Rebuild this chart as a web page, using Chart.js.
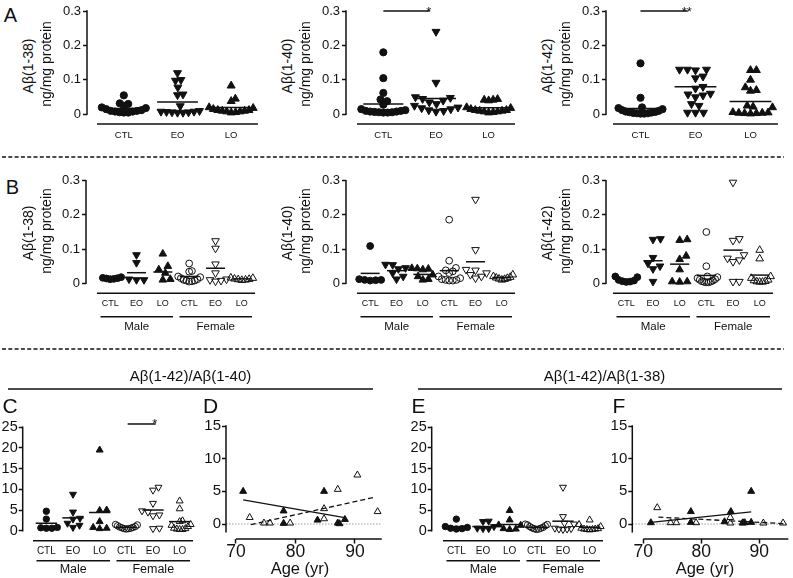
<!DOCTYPE html>
<html><head><meta charset="utf-8">
<title>Aβ peptides scatter plots</title>
<script src="https://cdn.jsdelivr.net/npm/chart.js@4.4.1/dist/chart.umd.min.js"></script>
<style>
html,body{margin:0;padding:0;background:#fff}
body{position:relative;width:793px;height:578px;overflow:hidden;font-family:"Liberation Sans",Arial,Helvetica,sans-serif;color:#111}
canvas{position:absolute}
.t{position:absolute;white-space:nowrap;line-height:1;transform:translate(-50%,-50%)}
.r{transform:translate(-50%,-50%) rotate(-90deg)}
svg{position:absolute;left:0;top:0}
</style></head><body>
<svg id="deco" width="793" height="578"></svg>
<script>
const INK = '#111';

// ---------- labels & ticks ----------
const groups3 = ['CTL', 'EO', 'LO'];
const groups6 = ['CTL', 'EO', 'LO', 'CTL', 'EO', 'LO'];
const sexes = ['Male', 'Female'];
const yTicksConc = [0, 0.1, 0.2, 0.3];
const yTicksRatio = [0, 5, 10, 15, 20, 25];
const yTicksAge = [0, 5, 10, 15];
const xTicksAge = [70, 80, 90];

// ---------- Panel A : all subjects (ng/mg protein) ----------
const a38_CTL = [0.055, 0.032, 0.03, 0.025, 0.02, 0.018, 0.015, 0.012, 0.01, 0.01, 0.008, 0.008, 0.006, 0.005, 0.005];
const a38_EO  = [0.12, 0.10, 0.098, 0.078, 0.058, 0.056, 0.024, 0.01, 0.008, 0.008, 0.007, 0.006, 0.006, 0.005, 0.005];
const a38_LO  = [0.083, 0.045, 0.038, 0.02, 0.018, 0.015, 0.012, 0.012, 0.01, 0.01, 0.008, 0.008, 0.006, 0.005];
const a38_mean = [0.017, 0.036, 0.02];

const a40_CTL = [0.18, 0.105, 0.062, 0.043, 0.038, 0.028, 0.015, 0.012, 0.01, 0.01, 0.008, 0.008, 0.007, 0.006, 0.006, 0.005, 0.005];
const a40_EO  = [0.24, 0.092, 0.05, 0.048, 0.045, 0.04, 0.035, 0.03, 0.025, 0.02, 0.018, 0.015, 0.012, 0.01, 0.008];
const a40_LO  = [0.044, 0.042, 0.042, 0.04, 0.02, 0.018, 0.015, 0.012, 0.012, 0.01, 0.01, 0.008, 0.008, 0.006, 0.005];
const a40_mean = [0.03, 0.046, 0.019];

const a42_CTL = [0.148, 0.048, 0.02, 0.018, 0.015, 0.012, 0.01, 0.008, 0.007, 0.006, 0.005, 0.004, 0.003, 0.003, 0.002, 0.002];
const a42_EO  = [0.13, 0.13, 0.13, 0.128, 0.11, 0.105, 0.08, 0.075, 0.06, 0.058, 0.055, 0.05, 0.03, 0.025, 0.005, 0.005, 0.005];
const a42_LO  = [0.128, 0.128, 0.1, 0.078, 0.07, 0.068, 0.025, 0.022, 0.02, 0.006, 0.005, 0.004, 0.004, 0.003, 0.003, 0.002];
const a42_mean = [0.017, 0.08, 0.037];

// ---------- Panel B : by sex (male filled, female open) ----------
const b38_mCTL = [0.018, 0.016, 0.015, 0.014, 0.013, 0.012];
const b38_mEO  = [0.083, 0.06, 0.012, 0.01, 0.01];
const b38_mLO  = [0.086, 0.05, 0.04, 0.03, 0.012, 0.01];
const b38_fCTL = [0.058, 0.036, 0.034, 0.02, 0.018, 0.015, 0.012, 0.01, 0.008, 0.008, 0.006, 0.005];
const b38_fEO  = [0.124, 0.102, 0.056, 0.03, 0.012, 0.01, 0.008, 0.006];
const b38_fLO  = [0.016, 0.015, 0.013, 0.012, 0.011, 0.01, 0.009];
const b38_mean = [0.016, 0.031, 0.033, 0.02, 0.044, 0.013];

const b40_mCTL = [0.109, 0.012, 0.01, 0.01, 0.009, 0.008];
const b40_mEO  = [0.055, 0.054, 0.045, 0.042, 0.03, 0.02, 0.012];
const b40_mLO  = [0.044, 0.043, 0.042, 0.04, 0.025, 0.02, 0.012, 0.01];
const b40_fCTL = [0.186, 0.066, 0.045, 0.038, 0.035, 0.03, 0.02, 0.015, 0.012, 0.01, 0.01, 0.008, 0.008];
const b40_fEO  = [0.245, 0.098, 0.04, 0.038, 0.03, 0.025, 0.02, 0.015];
const b40_fLO  = [0.025, 0.02, 0.018, 0.016, 0.015, 0.013, 0.012, 0.01];
const b40_mean = [0.029, 0.037, 0.026, 0.037, 0.063, 0.017];

const b42_mCTL = [0.02, 0.018, 0.01, 0.008, 0.006, 0.005, 0.004];
const b42_mEO  = [0.13, 0.128, 0.075, 0.058, 0.05, 0.042, 0.005];
const b42_mLO  = [0.128, 0.126, 0.08, 0.07, 0.04, 0.005, 0.005, 0.004];
const b42_fCTL = [0.15, 0.05, 0.02, 0.018, 0.015, 0.012, 0.01, 0.008, 0.006, 0.005, 0.004, 0.003, 0.003];
const b42_fEO  = [0.295, 0.13, 0.125, 0.083, 0.073, 0.068, 0.063, 0.005, 0.005];
const b42_fLO  = [0.097, 0.072, 0.02, 0.015, 0.01, 0.008, 0.006, 0.005, 0.004, 0.004];
const b42_mean = [0.01, 0.066, 0.056, 0.023, 0.097, 0.024];

// ---------- Panel C : Aβ42/Aβ40 by sex ----------
const c_mCTL = [4.7, 2.8, 0.8, 0.7, 0.6, 0.6];
const c_mEO  = [8.8, 4.5, 3.0, 2.8, 1.8, 1.3, 0.8];
const c_mLO  = [19.5, 5.0, 4.9, 2.2, 0.8, 0.6, 0.5];
const c_fCTL = [1.5, 1.4, 1.2, 1.0, 0.9, 0.8, 0.7, 0.6, 0.5, 0.5, 0.4];
const c_fEO  = [10.5, 9.8, 6.6, 4.8, 4.5, 3.8, 3.6, 0.6, 0.5];
const c_fLO  = [7.2, 5.3, 2.4, 2.2, 1.5, 1.3, 1.0, 0.6, 0.5, 0.4, 0.3, 0.3];
const c_mean = [1.8, 3.1, 4.4, 0.8, 5.0, 2.2];

// ---------- Panel D : Aβ42/Aβ40 vs age (LO) ----------
const d_maleAge   = [71.2, 78.0, 78.0, 83.7, 84.8, 87.1, 87.4, 88.3];
const d_maleRatio = [5.0, 2.0, 0.1, 0.6, 5.0, 0.15, 0.05, 0.7];
const d_femaleAge   = [72.3, 74.7, 75.7, 79.1, 84.8, 84.8, 87.1, 90.4, 93.8];
const d_femaleRatio = [1.0, 0.15, 0.15, 0.15, 2.35, 0.8, 5.3, 7.5, 1.9];
const d_maleFitAge = [71.2, 88.5],   d_maleFitRatio = [3.7, 0.95];
const d_femaleFitAge = [72.5, 93.3], d_femaleFitRatio = [-0.1, 4.1];

// ---------- Panel E : Aβ42/Aβ38 by sex ----------
const e_mCTL = [2.8, 1.0, 0.8, 0.6, 0.5, 0.4];
const e_mEO  = [2.3, 2.2, 1.0, 0.6, 0.5, 0.5];
const e_mLO  = [4.9, 2.6, 1.4, 1.3, 0.5, 0.4, 0.3];
const e_fCTL = [1.6, 1.5, 1.4, 1.2, 1.0, 0.8, 0.7, 0.6, 0.5, 0.4, 0.3];
const e_fEO  = [10.5, 3.4, 1.8, 1.6, 0.6, 0.5, 0.4, 0.4, 0.3];
const e_fLO  = [2.6, 1.5, 1.0, 0.6, 0.5, 0.4, 0.4, 0.3, 0.3, 0.2];
const e_mean = [1.0, 1.0, 1.5, 0.8, 2.3, 0.8];

// ---------- Panel F : Aβ42/Aβ38 vs age (LO) ----------
const f_maleAge   = [71.3, 78.2, 78.2, 84.0, 85.1, 87.2, 87.5, 88.6, 88.6];
const f_maleRatio = [0.2, 1.9, 0.25, 0.35, 1.9, 0.2, 0.2, 5.0, 0.25];
const f_femaleAge   = [72.4, 74.7, 75.7, 79.1, 85.0, 85.0, 87.1, 90.7, 94.1];
const f_femaleRatio = [2.5, 0.2, 0.2, 0.2, 1.0, 0.15, 0.15, 0.15, 0.15];
const f_maleFitAge = [71.3, 88.6],   f_maleFitRatio = [0.25, 1.85];
const f_femaleFitAge = [72.6, 94.5], f_femaleFitRatio = [1.05, 0.05];

// ---------- significance annotations ----------
const sigA40 = {from: 0, to: 0.88, y: 0.3, label: '*'};
const sigA42 = {from: 0, to: 0.86, y: 0.3, label: '**'};
const sigC   = {from: 3.05, to: 4.1, y: 25.8, label: '*'};

// ================= rendering =================
Chart.defaults.font.family = '"Liberation Sans", Arial, Helvetica, sans-serif';
Chart.defaults.color = INK;
Chart.defaults.animation = false;
Chart.defaults.plugins.legend.display = false;
Chart.defaults.plugins.tooltip.enabled = false;

const MARKS = [
  {style: 'circle', rot: 0},
  {style: 'triangle', rot: 180},
  {style: 'triangle', rot: 0}
];

function makeCanvas(l, t, w, h) {
  const c = document.createElement('canvas');
  c.width = w; c.height = h;
  c.style.left = l + 'px'; c.style.top = t + 'px';
  c.style.width = w + 'px'; c.style.height = h + 'px';
  document.body.appendChild(c);
  return c;
}
function txt(s, x, y, size, rot) {
  const e = document.createElement('div');
  e.className = 't' + (rot ? ' r' : '');
  e.textContent = s;
  e.style.left = x + 'px'; e.style.top = y + 'px'; e.style.fontSize = size + 'px';
  document.body.appendChild(e);
}
const SVGNS = 'http://www.w3.org/2000/svg';
function svgLine(x1, y1, x2, y2, w, dash) {
  const l = document.createElementNS(SVGNS, 'line');
  l.setAttribute('x1', x1); l.setAttribute('y1', y1);
  l.setAttribute('x2', x2); l.setAttribute('y2', y2);
  l.setAttribute('stroke', INK); l.setAttribute('stroke-width', w);
  if (dash) l.setAttribute('stroke-dasharray', dash);
  document.getElementById('deco').appendChild(l);
}

// beeswarm layout (pixel space) -> offsets in category units
function swarmOffsets(vals, pxPerX, pxPerY, d, maxHalf) {
  const order = vals.map((v, i) => i).sort((a, b) => vals[a] - vals[b]);
  const placed = [];
  const off = new Array(vals.length).fill(0);
  const s = 0.5;
  for (const i of order) {
    const py = vals[i] * pxPerY;
    let c = 0;
    for (let k = 0; k < 2000; k++) {
      c = k === 0 ? 0 : (k % 2 ? 1 : -1) * Math.ceil(k / 2) * s;
      let ok = true;
      for (const q of placed) {
        const dy = Math.abs(py - q.py);
        if (dy >= d) continue;
        const need = Math.sqrt(d * d - dy * dy);
        if (Math.abs(c - q.px) < need - 1e-6) { ok = false; break; }
      }
      if (ok) break;
    }
    placed.push({px: c, py});
    off[i] = c;
  }
  const m = Math.max(0, ...off.map(Math.abs));
  const k = m > maxHalf ? maxHalf / m : 1;
  return off.map(o => o * k / pxPerX);
}

// Prism-style axes, group bars and significance marks
const prismPlugin = {
  id: 'prism',
  afterDraw(chart, args, o) {
    const {ctx, chartArea: a, scales: {x, y}} = chart;
    ctx.save();
    ctx.strokeStyle = INK; ctx.lineWidth = 1.5; ctx.lineCap = 'butt';
    const seg = (x1, y1, x2, y2) => { ctx.beginPath(); ctx.moveTo(x1, y1); ctx.lineTo(x2, y2); ctx.stroke(); };
    seg(a.left, y.getPixelForValue(o.yTop) - 0.75, a.left, y.getPixelForValue(o.yBottom) + 0.75);
    seg(x.getPixelForValue(o.xFrom), a.bottom, x.getPixelForValue(o.xTo), a.bottom);
    (o.groupLines || []).forEach(g => seg(x.getPixelForValue(g[0]) + 3.5, a.bottom + o.groupDy, x.getPixelForValue(g[1]) - 3, a.bottom + o.groupDy));
    if (o.sig) {
      ctx.fillStyle = INK;
      ctx.font = '13px "Liberation Sans", Arial, sans-serif';
      ctx.textAlign = 'center'; ctx.textBaseline = 'alphabetic';
      ctx.fillText(o.sig.label, x.getPixelForValue(o.sig.to) - 1, y.getPixelForValue(o.sig.y) + 4.5);
    }
    ctx.restore();
  }
};

function fixedTicks(list) { return s => { s.ticks = list.map(v => ({value: v})); }; }

function dotPanel(p) {
  const Wy = 44, Hx = 32, padR = 8, padB = 6;
  const cl = Math.floor(p.axisX - Wy), ct = Math.floor(p.topY - 16);
  const w = Math.ceil(p.xEnd + padR - cl), h = Math.ceil(p.xLineY + Hx + padB - ct);
  const n = p.cats.length, unit = (p.xEnd - p.xStart) / n;
  const xmin = -0.5 - (p.xStart - p.axisX) / unit, xmax = n - 0.5;
  const ymax = p.yTicks[p.yTicks.length - 1];
  const pxY = (p.zeroY - p.topY) / ymax;
  const ymin = -(p.xLineY - p.zeroY) / pxY;
  const datasets = [];
  p.series.forEach((vals, g) => {
    const mk = MARKS[g % 3];
    const filled = g < 3;
    const isC = mk.style === 'circle';
    const r = isC ? p.rc : p.rt;
    const d = isC ? 2 * p.rc * 0.95 : p.rt * 1.65;
    const offs = swarmOffsets(vals, unit, pxY, d, p.maxHalf);
    datasets.push({
      data: vals.map((v, i) => ({x: g + offs[i], y: v})),
      pointStyle: mk.style, pointRotation: mk.rot, pointRadius: r,
      pointBackgroundColor: filled ? INK : 'rgba(255,255,255,0)',
      pointBorderColor: INK, pointBorderWidth: 1, showLine: false, clip: false, order: 0
    });
  });
  p.means.forEach((mv, g) => datasets.push({
    data: [{x: g - p.hw, y: mv}, {x: g + p.hw, y: mv}],
    showLine: true, pointRadius: 0, borderColor: INK, borderWidth: 1.5, clip: false, order: 1
  }));
  if (p.sig) datasets.push({
    data: [{x: p.sig.from, y: p.sig.y}, {x: p.sig.to, y: p.sig.y}],
    showLine: true, pointRadius: 0, borderColor: INK, borderWidth: 1.5, clip: false, order: 1
  });
  const canvas = makeCanvas(cl, ct, w, h);
  new Chart(canvas, {
    type: 'scatter',
    data: {datasets},
    plugins: [prismPlugin],
    options: {
      responsive: false, animation: false, devicePixelRatio: 1,
      layout: {padding: {left: p.axisX - Wy - cl, top: p.topY - ct, right: w - (p.xEnd - cl), bottom: h - (p.xLineY - ct) - Hx}},
      scales: {
        x: {
          type: 'linear', min: xmin, max: xmax,
          afterBuildTicks: fixedTicks(p.cats.map((c, i) => i)),
          afterFit: s => { s.height = Hx; },
          ticks: {callback: (v, i) => p.cats[i], autoSkip: false, maxRotation: 0, padding: p.catPad,
                  font: {size: p.catFont, lineHeight: 1}, color: INK},
          grid: {display: false, drawTicks: false}, border: {display: false}
        },
        y: {
          type: 'linear', min: ymin, max: ymax,
          afterBuildTicks: fixedTicks(p.yTicks),
          afterFit: s => { s.width = Wy; },
          ticks: {callback: v => String(v), padding: p.yPad, font: {size: p.yFont, lineHeight: 1}, color: INK, autoSkip: false},
          grid: {display: true, drawOnChartArea: false, drawTicks: true, tickLength: 4, tickColor: INK, tickWidth: 1.5},
          border: {display: false}
        }
      },
      plugins: {
        prism: {yTop: ymax, yBottom: 0, xFrom: -0.5, xTo: n - 0.5, sig: p.sig,
                groupLines: n === 6 ? [[-0.5, 2.5], [2.5, 5.5]] : [], groupDy: p.groupDy}
      }
    }
  });
  if (n === 6) {
    const mC = (p.xStart + 3.5 + p.xStart + 3 * unit - 3) / 2;
    const fC = (p.xStart + 3 * unit + 3.5 + p.xEnd - 3) / 2;
    txt(sexes[0], mC, p.xLineY + p.sexDy, p.sexFont);
    txt(sexes[1], fC, p.xLineY + p.sexDy, p.sexFont);
  }
}

function agePanel(p) {
  const Wy = 40, Hx = 34, padB = 4, padR = 6;
  const ymax = p.yTicks[p.yTicks.length - 1];
  const pxY = (p.zeroY - p.topY) / ymax;
  const ymin = -(p.xLineY - p.zeroY) / pxY;
  const xmin = p.xTicks[0] - (p.x0 - p.axisX) / p.pxX;
  const rightX = p.axisX + (p.xmax - xmin) * p.pxX;
  const cl = Math.floor(p.axisX - Wy), ct = Math.floor(p.topY - 16);
  const w = Math.ceil(rightX + padR - cl), h = Math.ceil(p.xLineY + Hx + padB - ct);
  const pts = (xs, ys) => xs.map((x, i) => ({x, y: ys[i]}));
  const datasets = [
    {data: pts(p.maleX, p.maleY), pointStyle: 'triangle', pointRadius: p.rt, pointBackgroundColor: INK,
     pointBorderColor: INK, pointBorderWidth: 1, showLine: false, clip: false, order: 0},
    {data: pts(p.femaleX, p.femaleY), pointStyle: 'triangle', pointRadius: p.rt, pointBackgroundColor: 'rgba(255,255,255,0)',
     pointBorderColor: INK, pointBorderWidth: 1, showLine: false, clip: false, order: 0},
    {data: pts(p.maleFitX, p.maleFitY), showLine: true, pointRadius: 0, borderColor: INK, borderWidth: 1.3, clip: false, order: 1},
    {data: pts(p.femaleFitX, p.femaleFitY), showLine: true, pointRadius: 0, borderColor: INK, borderWidth: 1.3,
     borderDash: [5, 3], clip: false, order: 1},
    {data: [{x: xmin, y: 0}, {x: p.xmax, y: 0}], showLine: true, pointRadius: 0, borderColor: '#9a9a9a',
     borderWidth: 1, borderDash: [1.5, 1.5], clip: false, order: 2}
  ];
  const canvas = makeCanvas(cl, ct, w, h);
  new Chart(canvas, {
    type: 'scatter',
    data: {datasets},
    plugins: [prismPlugin],
    options: {
      responsive: false, animation: false, devicePixelRatio: 1,
      layout: {padding: {left: p.axisX - Wy - cl, top: p.topY - ct, right: w - (rightX - cl), bottom: h - (p.xLineY - ct) - Hx}},
      scales: {
        x: {
          type: 'linear', min: xmin, max: p.xmax,
          afterBuildTicks: fixedTicks(p.xTicks),
          afterFit: s => { s.height = Hx; },
          ticks: {callback: v => String(v), autoSkip: false, maxRotation: 0, padding: 0,
                  font: {size: p.xFont, lineHeight: 1}, color: INK},
          grid: {display: true, drawOnChartArea: false, drawTicks: true, tickLength: 4.5, tickColor: INK, tickWidth: 1.5},
          border: {display: false}
        },
        y: {
          type: 'linear', min: ymin, max: ymax,
          afterBuildTicks: fixedTicks(p.yTicks),
          afterFit: s => { s.width = Wy; },
          ticks: {callback: v => String(v), padding: 1, font: {size: p.yFont, lineHeight: 1}, color: INK, autoSkip: false},
          grid: {display: true, drawOnChartArea: false, drawTicks: true, tickLength: 4, tickColor: INK, tickWidth: 1.5},
          border: {display: false}
        }
      },
      plugins: {prism: {yTop: ymax, yBottom: p.yAxisBottom, xFrom: p.xTicks[0], xTo: p.xmax}}
    }
  });
  txt('Age (yr)', p.titleX, 568, 16.5);
}

// ----- Row A -----
const rowA = {topY: 11, zeroY: 114.3, xLineY: 124, yTicks: yTicksConc, cats: groups3, rc: 3.6, rt: 4.6,
              maxHalf: 22, hw: 0.38, catFont: 9.5, catPad: 6.2, yFont: 13, yPad: 2};
dotPanel({...rowA, axisX: 87,  xStart: 97,  xEnd: 258, series: [a38_CTL, a38_EO, a38_LO], means: a38_mean});
dotPanel({...rowA, axisX: 346, xStart: 357, xEnd: 515, series: [a40_CTL, a40_EO, a40_LO], means: a40_mean, sig: sigA40});
dotPanel({...rowA, axisX: 606, xStart: 613, xEnd: 778, series: [a42_CTL, a42_EO, a42_LO], means: a42_mean, sig: sigA42});

// ----- Row B -----
const rowB = {topY: 180.7, zeroY: 283.3, xLineY: 293.3, yTicks: yTicksConc, cats: groups6, rc: 3.4, rt: 4.4,
              maxHalf: 11, hw: 0.36, catFont: 9, catPad: 6.2, yFont: 13, yPad: 2, groupDy: 23.5, sexDy: 34, sexFont: 11.5};
dotPanel({...rowB, axisX: 86,  xStart: 97,  xEnd: 255, series: [b38_mCTL, b38_mEO, b38_mLO, b38_fCTL, b38_fEO, b38_fLO], means: b38_mean});
dotPanel({...rowB, axisX: 346, xStart: 357, xEnd: 515, series: [b40_mCTL, b40_mEO, b40_mLO, b40_fCTL, b40_fEO, b40_fLO], means: b40_mean});
dotPanel({...rowB, axisX: 606, xStart: 613, xEnd: 773, series: [b42_mCTL, b42_mEO, b42_mLO, b42_fCTL, b42_fEO, b42_fLO], means: b42_mean});

// ----- Row C-F -----
const rowC = {topY: 427.3, zeroY: 530.7, xLineY: 540.7, yTicks: yTicksRatio, cats: groups6, rc: 3.2, rt: 4.0,
              maxHalf: 11, hw: 0.4, catFont: 10, catPad: 5.7, yFont: 14.5, yPad: 1, groupDy: 20, sexDy: 28.3, sexFont: 12.5};
dotPanel({...rowC, axisX: 22.7,  xStart: 33,  xEnd: 193, series: [c_mCTL, c_mEO, c_mLO, c_fCTL, c_fEO, c_fLO], means: c_mean, sig: sigC});
dotPanel({...rowC, axisX: 431.7, xStart: 443, xEnd: 603, series: [e_mCTL, e_mEO, e_mLO, e_fCTL, e_fEO, e_fLO], means: e_mean});

const rowD = {topY: 426, zeroY: 524, xLineY: 539, yTicks: yTicksAge, xTicks: xTicksAge, rt: 4.0, yFont: 15, xFont: 17.5, yAxisBottom: -1.2};
agePanel({...rowD, axisX: 226, x0: 236, pxX: 5.95, xmax: 94.5, titleX: 300,
  maleX: d_maleAge, maleY: d_maleRatio, femaleX: d_femaleAge, femaleY: d_femaleRatio,
  maleFitX: d_maleFitAge, maleFitY: d_maleFitRatio, femaleFitX: d_femaleFitAge, femaleFitY: d_femaleFitRatio});
agePanel({...rowD, axisX: 632.3, x0: 643.3, pxX: 5.8, xmax: 95, titleX: 705,
  maleX: f_maleAge, maleY: f_maleRatio, femaleX: f_femaleAge, femaleY: f_femaleRatio,
  maleFitX: f_maleFitAge, maleFitY: f_maleFitRatio, femaleFitX: f_femaleFitAge, femaleFitY: f_femaleFitRatio});

// ----- decorations & free text -----
svgLine(2, 157, 784, 157, 1.5, '4 2.3');
svgLine(2, 349, 784, 349, 1.5, '4 2.3');
svgLine(8, 389, 373, 389, 1.5);
svgLine(418, 389, 782, 389, 1.5);

txt('A', 10.5, 15, 20); txt('B', 12.5, 187, 20);
txt('C', 10, 404.5, 21); txt('D', 210.5, 404.5, 21); txt('E', 418.5, 404.5, 21); txt('F', 619, 404.5, 21);

const yTitles = [['Aβ(1-38)', 87], ['Aβ(1-40)', 346], ['Aβ(1-42)', 606]];
yTitles.forEach(([t, ax]) => {
  txt(t, ax - 59, 66, 14, true);  txt('ng/mg protein', ax - 41, 63.5, 14, true);
  txt(t, ax - 59, 233, 14, true); txt('ng/mg protein', ax - 41, 231, 14, true);
});
txt('Aβ(1-42)/Aβ(1-40)', 190.5, 375, 15);
txt('Aβ(1-42)/Aβ(1-38)', 604.5, 375, 15);
</script>
</body></html>
